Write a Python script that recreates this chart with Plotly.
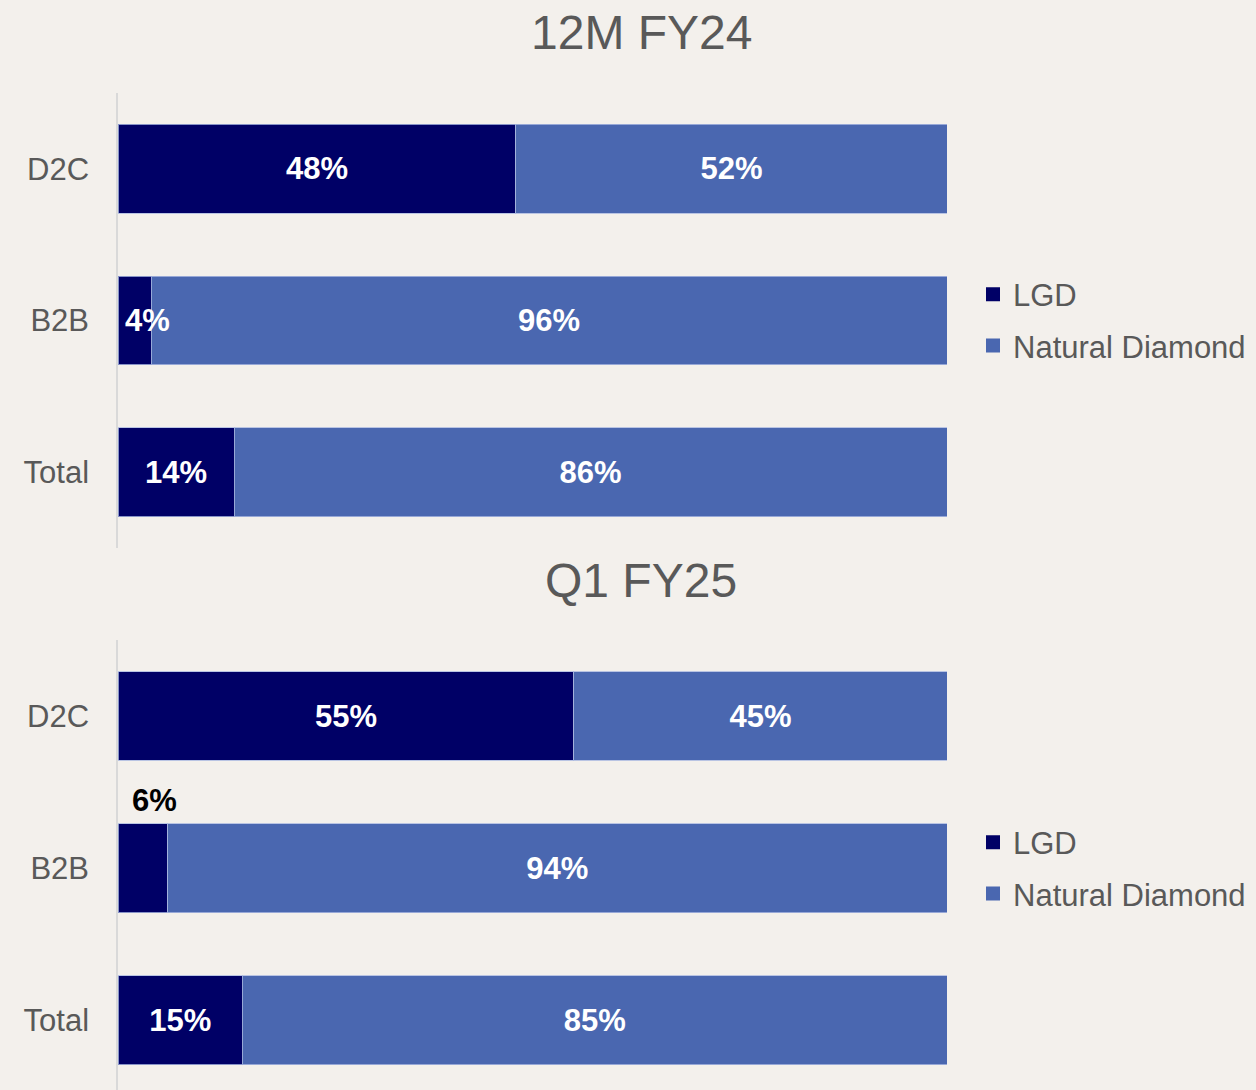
import plotly.graph_objects as go

# ---- data ----
categories = ["D2C", "B2B", "Total"]
fy24_lgd = [48, 4, 14]
fy24_natural = [52, 96, 86]
q1fy25_lgd = [55, 6, 15]
q1fy25_natural = [45, 94, 85]
series_names = ["LGD", "Natural Diamond"]
titles = ["12M FY24", "Q1 FY25"]

# ---- style ----
W, H = 1256, 1090
BG = "#f3f0ec"
C_LGD = "#000066"
C_NAT = "#4a67b0"
GREY = "#595959"
FONT = "Liberation Sans, Arial, sans-serif"

def py(px):
    return 1 - px / H

x_dom = [118 / W, 947 / W]
top_dom = [py(548), py(93)]
bot_dom = [0, py(640)]

fig = go.Figure()

panels = [
    (fy24_lgd, fy24_natural, "x", "y", "legend"),
    (q1fy25_lgd, q1fy25_natural, "x2", "y2", "legend2"),
]

small_labels = []
for pi, (lgd, nat, xa, ya, lg) in enumerate(panels):
    lgd_text = []
    for ci, v in enumerate(lgd):
        if v < 10:
            lgd_text.append("")
            small_labels.append((pi, ci, v))
        else:
            lgd_text.append(f"{v}%")
    for si, (name, vals, col, txt) in enumerate([
        (series_names[0], lgd, C_LGD, lgd_text),
        (series_names[1], nat, C_NAT, [f"{v}%" for v in nat]),
    ]):
        fig.add_trace(go.Bar(
            y=categories, x=vals, orientation="h", name=name,
            marker=dict(color=col, line=dict(color="rgba(170,185,225,0.8)", width=1)),
            width=0.585,
            text=txt, textposition="inside", insidetextanchor="middle",
            textfont=dict(color="white", size=31, family=FONT, weight="bold"),
            xaxis=xa, yaxis=ya, showlegend=False,
            hoverinfo="skip",
        ))
    for si, (name, col) in enumerate([(series_names[0], C_LGD), (series_names[1], C_NAT)]):
        fig.add_trace(go.Scatter(
            x=[None], y=[None], mode="markers", name=name,
            marker=dict(symbol="square", size=14, color=col),
            xaxis=xa, yaxis=ya, legend=lg, legendgroup=f"g{pi}{si}", showlegend=True,
        ))

annotations = []
for pi, ci, v in small_labels:
    ya = "y" if pi == 0 else "y2"
    xa = "x" if pi == 0 else "x2"
    if pi == 0:
        annotations.append(dict(x=0, y=categories[ci], xref=xa, yref=ya, text=f"<b>{v}%</b>",
                                showarrow=False, xanchor="left", xshift=5,
                                font=dict(color="white", size=31, family=FONT)))
    else:
        annotations.append(dict(x=0, y=categories[ci], xref=xa, yref=ya, text=f"<b>{v}%</b>",
                                showarrow=False, xanchor="left", xshift=12, yshift=68,
                                font=dict(color="black", size=31, family=FONT)))

annotations.append(dict(x=641 / W, y=py(33), xref="paper", yref="paper", text=titles[0],
                        showarrow=False, xanchor="center", yanchor="middle",
                        font=dict(size=48, color=GREY, family=FONT)))
annotations.append(dict(x=641 / W, y=py(580), xref="paper", yref="paper", text=titles[1],
                        showarrow=False, xanchor="center", yanchor="middle",
                        font=dict(size=48, color=GREY, family=FONT)))

xcommon = dict(range=[0, 100], domain=x_dom, showgrid=False, zeroline=False,
               showticklabels=False, showline=False, fixedrange=True)
ycommon = dict(type="category", showgrid=False, zeroline=False, showline=True,
               linecolor="#d9d9d9", linewidth=1.5, ticks="",
               tickfont=dict(size=31, color=GREY, family=FONT), ticklabelstandoff=21)

legcommon = dict(font=dict(size=31, color=GREY, family=FONT), bgcolor="rgba(0,0,0,0)",
                 traceorder="grouped", tracegroupgap=8, xanchor="left", yanchor="middle",
                 x=973 / W, itemclick=False, itemdoubleclick=False)

fig.update_layout(
    width=W, height=H,
    paper_bgcolor=BG, plot_bgcolor=BG,
    margin=dict(l=0, r=0, t=0, b=0),
    barmode="stack", showlegend=True,
    xaxis=dict(**xcommon, anchor="y"),
    yaxis=dict(**ycommon, domain=top_dom, range=[2.5, -0.5], anchor="x"),
    xaxis2=dict(**xcommon, anchor="y2"),
    yaxis2=dict(**ycommon, domain=bot_dom, range=[2.46, -0.5], anchor="x2"),
    legend=dict(**legcommon, y=py(320)),
    legend2=dict(**legcommon, y=py(868)),
    annotations=annotations,
)

fig.write_html("out.html", config={"displayModeBar": False},
               post_script="document.body.style.margin='0';document.body.style.overflow='hidden';")
